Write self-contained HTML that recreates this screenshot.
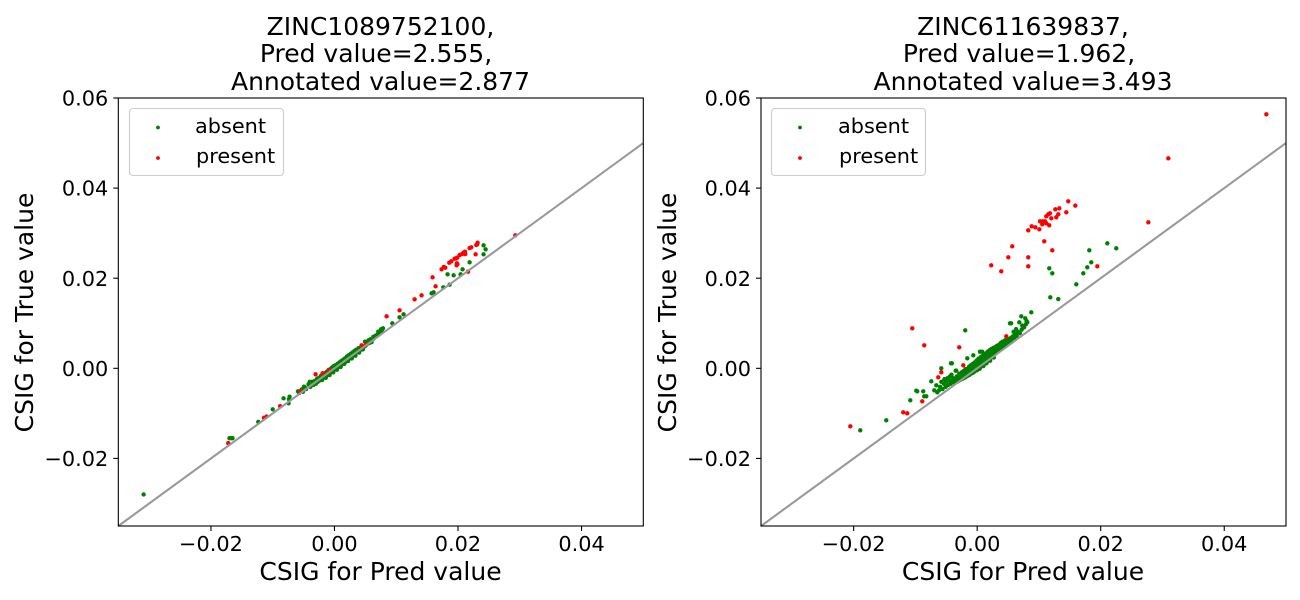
<!DOCTYPE html>
<html lang="en">
<head>
<meta charset="utf-8">
<title>CSIG scatter comparison</title>
<style>
html,body{margin:0;padding:0;background:#fff;width:1300px;height:600px;overflow:hidden}
svg{display:block}
text{font-family:"DejaVu Sans","Liberation Sans",sans-serif;fill:#000}
.title,.axis{font-size:25px}
.tick,.leg{font-size:20.83px}
</style>
</head>
<body>
<svg id="figure" xmlns="http://www.w3.org/2000/svg" width="1300" height="600" viewBox="0 0 1300 600">
  <g id="panel-left">
    <g>
      <text class="title" x="380.5" y="35" text-anchor="middle">ZINC1089752100,</text>
      <text class="title" x="376" y="62" text-anchor="middle">Pred value=2.555,</text>
      <text class="title" x="380.5" y="90" text-anchor="middle">Annotated value=2.877</text>
    </g>
    <text class="axis" x="380.5" y="580" text-anchor="middle">CSIG for Pred value</text>
    <text class="axis" transform="translate(33,312.5) rotate(-90)" text-anchor="middle">CSIG for True value</text>
  </g>
  <g id="panel-right">
    <g>
      <text class="title" x="1023" y="35" text-anchor="middle">ZINC611639837,</text>
      <text class="title" x="1019" y="62" text-anchor="middle">Pred value=1.962,</text>
      <text class="title" x="1023" y="90" text-anchor="middle">Annotated value=3.493</text>
    </g>
    <text class="axis" x="1023" y="580" text-anchor="middle">CSIG for Pred value</text>
    <text class="axis" transform="translate(676,312.5) rotate(-90)" text-anchor="middle">CSIG for True value</text>
  </g>
</svg>
<script>
const xTickValues = [-0.02, 0, 0.02, 0.04];
const yTickValues = [-0.02, 0, 0.02, 0.04, 0.06];
const xTickLabels = ['\u22120.02', '0.00', '0.02', '0.04'];
const yTickLabels = ['\u22120.02', '0.00', '0.02', '0.04', '0.06'];
const xLimits = [-0.035, 0.05];
const yLimits = [-0.035, 0.06];
const identityLine = [-0.035, 0.05];

const leftAbsent = [
[-0.0309,-0.028],[-0.017,-0.0155],[-0.0167,-0.0155],[-0.0165,-0.0155],[-0.01234,-0.0119],[-0.01,-0.0091],
[-0.00824,-0.00666],[-0.00727,-0.0063],[-0.00737,-0.00688],[-0.00743,-0.00777],[-0.00591,-0.0051],[-0.0057,-0.0055],
[-0.00494,-0.00408],[-0.0048,-0.00425],[-0.0051,-0.0052],[-0.0046,-0.0046],[-0.00419,-0.00349],[-0.0039,-0.0041],
[-0.0036,-0.0030],[-0.0034,-0.0037],[-0.0032,-0.0028],[-0.0030,-0.0034],[-0.0028,-0.0023],[-0.0027,-0.0030],
[-0.0025,-0.0021],[-0.0024,-0.0027],[-0.0022,-0.0017],[-0.0021,-0.0024],[-0.0019,-0.0014],[-0.0018,-0.0021],
[-0.0016,-0.0011],[-0.0015,-0.0018],[-0.0013,-0.0008],[-0.0012,-0.0015],[-0.0010,-0.0005],[-0.0009,-0.0012],
[-0.0007,-0.0002],[-0.0006,-0.0009],[-0.0004,0.0002],[-0.0003,-0.0006],[-0.0001,0.0005],[0.0000,-0.0003],
[0.0002,0.0007],[0.0003,-0.0000],[0.0005,0.0010],[0.0006,0.0003],[0.0008,0.0013],[0.0009,0.0006],
[0.0011,0.0016],[0.0012,0.0009],[0.0014,0.0019],[0.0015,0.0012],[0.0017,0.0022],[0.0018,0.0015],
[0.0020,0.0026],[0.0021,0.0018],[0.0023,0.0029],[0.0024,0.0022],[0.0026,0.0032],[0.0027,0.0025],
[0.0029,0.0035],[0.0030,0.0028],[0.0032,0.0038],[0.0033,0.0032],[0.0035,0.0041],[0.0037,0.0036],
[0.0039,0.0045],[0.0041,0.0040],[0.00439,0.0050],[0.00494,0.0059],[0.0047,0.0047],[0.0052,0.0053],
[0.0055,0.0062],[0.0058,0.00644],[0.0060,0.0058],[0.0063,0.0070],[0.0066,0.0072],[0.00709,0.00812],
[0.0069,0.0074],[0.00753,0.00866],[0.0073,0.0079],[0.00785,0.00888],[0.0077,0.0081],
[-0.0020,-0.0026],[-0.0014,-0.0021],[-0.0008,-0.0015],[-0.0002,-0.0009],[0.0004,-0.0003],[0.0010,0.0003],
[0.0016,0.0010],[0.0022,0.0016],[0.0028,0.0022],[0.0034,0.0028],[0.0040,0.0035],[0.0046,0.0042],
[-0.0042,-0.0036],[-0.0040,-0.0030],[-0.0053,-0.0047],[0.0050,0.0050],[0.0056,0.0056],[0.0062,0.0064],
[0.00936,0.00999],[0.01054,0.01132],[0.01119,0.01199],[0.01572,0.01665],[0.01605,0.01687],[0.01762,0.01798],
[0.01864,0.01856],[0.01831,0.02087],[0.01929,0.02064],[0.02042,0.02087],[0.02074,0.02197],[0.02188,0.02353],
[0.02414,0.0273],[0.02447,0.02641],[0.02414,0.0253]
];
const leftPresent = [
[-0.0172,-0.0166],[-0.01142,-0.011],[-0.0110,-0.0107],[-0.0088,-0.0084],[-0.00549,-0.00504],[-0.00306,-0.00133],
[-0.00193,-0.00111],[-0.00096,-0.00038],[0.00439,0.00511],[0.00515,0.00539],[0.00844,0.01154],[0.01054,0.01287],
[0.01297,0.01531],[0.0141,0.0162],[0.01588,0.0202],[0.01637,0.0182],[0.01734,0.02197],[0.01794,0.02233],
[0.0177,0.0225],[0.01859,0.02344],[0.01891,0.02375],[0.01945,0.02433],[0.01965,0.0244],[0.01988,0.02455],
[0.01983,0.02331],[0.01977,0.02286],[0.0199,0.0231],[0.02026,0.02515],[0.02064,0.02537],[0.02113,0.02588],
[0.02118,0.02537],[0.02085,0.0256],[0.02162,0.02144],[0.02188,0.0267],[0.02215,0.02686],[0.02285,0.0253],
[0.02296,0.02737],[0.02317,0.02788],[0.0231,0.0275],[0.02928,0.02952]
];
const rightAbsent = [
[-0.01893,-0.01376],[-0.01472,-0.01154],[-0.01083,-0.0071],[-0.00986,-0.00497],[-0.0097,-0.0051],[-0.00873,-0.00511],
[-0.00857,-0.00622],[-0.00824,-0.00622],[-0.00743,-0.00289],[-0.00695,-0.00488],[-0.00662,-0.00377],[-0.00646,-0.00533],
[-0.00581,0.0],[-0.0062,-0.0049],[-0.0060,-0.0041],[-0.0058,-0.0030],[-0.0056,-0.0046],[-0.0054,-0.0034],
[-0.0053,-0.0024],[-0.0051,-0.0041],[-0.0050,-0.0029],[-0.0048,-0.0022],[-0.0047,-0.0037],[-0.0045,-0.0027],
[-0.0044,-0.0018],[-0.0043,-0.0034],[-0.00424,0.00111],[-0.0041,0.00111],[-0.00416,-0.00142],[-0.0040,-0.0028],
[-0.0039,-0.0022],[-0.0037,-0.0032],[-0.00348,-0.00053],[-0.0034,-0.0005],[-0.0034,-0.0026],[-0.0033,-0.0018],
[-0.0031,-0.0029],[-0.0030,-0.0020],[-0.0029,-0.0012],[-0.0028,-0.0026],[-0.0026,-0.0016],[-0.0025,-0.0009],
[-0.0025,-0.0024],[-0.0023,-0.0014],[-0.0022,-0.0006],[-0.0022,-0.0022],[-0.00193,0.00843],[-0.0020,-0.0011],
[-0.0019,-0.0002],[-0.0019,-0.0020],[-0.0017,-0.0008],[-0.0016,0.00222],[-0.0016,-0.0001],[-0.0016,-0.0017],
[-0.0014,-0.0004],[-0.0013,0.0004],[-0.0013,-0.0015],[-0.0011,-0.0002],[-0.0010,0.0007],[-0.0010,-0.0012],
[-0.0008,0.0002],[-0.00063,0.00289],[-0.0007,0.0010],[-0.0007,-0.0010],[-0.0005,0.0005],[-0.0004,0.0013],
[-0.0004,-0.0007],[-0.0002,0.0008],[-0.0001,0.0017],[-0.0001,-0.0004],[0.0001,0.0011],[0.0002,0.0021],
[0.0002,-0.0001],[0.0004,0.0014],[0.00045,0.00369],[0.0005,0.0024],[0.0005,0.0002],[0.0008,0.00369],
[0.0007,0.0016],[0.0008,0.0027],[0.0008,0.0006],[0.0010,0.0019],[0.0011,0.0031],[0.0011,0.0009],
[0.0013,0.0023],[0.0014,0.0033],[0.0014,0.0013],[0.0016,0.0026],[0.0017,0.0037],[0.0017,0.0016],
[0.0019,0.0030],[0.0020,0.0040],[0.0020,0.0020],[0.0022,0.0033],[0.0023,0.0043],[0.0023,0.0024],
[0.0025,0.0036],[0.0026,0.0045],[0.0026,0.0028],[0.0028,0.0039],[0.0029,0.0047],[0.0029,0.0032],
[0.0031,0.0043],[0.0032,0.0050],[0.0032,0.0036],[0.0034,0.0046],[0.0035,0.0052],[0.0035,0.0040],
[0.0037,0.0049],[0.0038,0.0056],[0.0038,0.0044],[0.0040,0.0053],[0.0041,0.0059],[0.0042,0.0048],
[0.0044,0.0056],[0.0045,0.0062],[0.0046,0.0052],[0.0048,0.0060],[0.0050,0.0065],[0.0050,0.0057],
[0.0053,0.0064],[0.0055,0.0068],[0.0055,0.0061],[0.0058,0.0071],[0.0059,0.0081],[0.0060,0.0067],
[0.0062,0.0076],[0.0063,0.0087],[0.0064,0.0072],[0.0066,0.0081],[0.00531,0.00999],[0.0055,0.0100],
[0.00682,0.01021],[0.0069,0.0078],[0.0072,0.0086],[0.00714,0.01154],[0.0073,0.0095],[0.0076,0.0091],
[0.00779,0.0111],[0.0079,0.0098],[0.00811,0.01021],[0.0080,0.0105],[0.00876,0.01243],
[-0.0012,-0.0006],[-0.0006,-0.0002],[0.0000,0.0005],[0.0003,0.0004],[0.0006,0.0010],[0.0009,0.0013],
[0.0012,0.0017],[0.0015,0.0021],[0.0018,0.0024],[0.0021,0.0028],[0.0024,0.0031],[0.0027,0.0034],
[0.0030,0.0037],[0.0033,0.0041],[0.0036,0.0044],[0.0039,0.0047],[0.0043,0.0052],[0.0047,0.0056],
[0.0000,-0.0004],[0.0004,-0.0001],[0.0010,0.0005],[0.0015,0.0011],[0.0021,0.0017],[0.0027,0.0024],
[0.01167,0.0222],[0.01184,0.01576],[0.01216,0.02109],[0.01313,0.01538],[0.01605,0.01865],[0.01718,0.02109],
[0.01783,0.02242],[0.01815,0.02619],[0.01847,0.02353],[0.02107,0.02775],[0.02252,0.02664]
];
const rightPresent = [
[-0.02054,-0.01288],[-0.01197,-0.00977],[-0.01132,-0.00999],[-0.01051,0.00888],[-0.00889,-0.00733],[-0.00857,0.00511],
[-0.0063,-0.002],[-0.00581,-0.00089],[-0.0029,0.00466],[-0.00225,0.00067],[0.00471,0.0071],[0.00228,0.02286],
[0.0039,0.02153],[0.00504,0.02464],[0.00568,0.02708],[0.00827,0.02464],[0.00827,0.02264],[0.00827,0.03063],
[0.00882,0.03152],[0.00941,0.0313],[0.01006,0.03086],[0.01017,0.03263],[0.01054,0.03197],[0.0106,0.03263],
[0.01086,0.02819],[0.01098,0.03263],[0.01119,0.03374],[0.01119,0.03219],[0.01151,0.03418],[0.01167,0.03174],
[0.01179,0.0344],[0.012,0.0333],[0.01216,0.02619],[0.01265,0.03529],[0.01281,0.03352],[0.01313,0.03418],
[0.0133,0.03552],[0.01443,0.03463],[0.01475,0.03707],[0.01589,0.03611],[0.01945,0.02264],[0.02771,0.03241],
[0.03095,0.04661],[0.04682,0.05638]
];

const SVG_NS = 'http://www.w3.org/2000/svg';
const axesWidth = 525;
const axesHeight = 428;
const axesTop = 98;

function makeX(left) {
  return function (v) { return left + (v - xLimits[0]) / (xLimits[1] - xLimits[0]) * axesWidth; };
}
function yScale(v) {
  return axesTop + axesHeight - (v - yLimits[0]) / (yLimits[1] - yLimits[0]) * axesHeight;
}
function node(tag, attrs, parent) {
  const el = document.createElementNS(SVG_NS, tag);
  Object.keys(attrs).forEach(function (k) { el.setAttribute(k, attrs[k]); });
  parent.appendChild(el);
  return el;
}

function drawPanel(panelId, left, legendLeft, legendTextShift, absent, present) {
  const root = document.getElementById(panelId);
  const x = makeX(left);

  const marks = node('g', {}, root);
  
  

  absent.forEach(function (d) {
    const c = node('circle', { cx: x(d[0]), cy: yScale(d[1]), r: 2.2, fill: 'green' }, marks);
    
    
  });
  present.forEach(function (d) {
    const c = node('circle', { cx: x(d[0]), cy: yScale(d[1]), r: 2.2, fill: 'red' }, marks);
    
    
  });

  const line = node('line', {
    x1: x(identityLine[0]), y1: yScale(identityLine[0]),
    x2: x(identityLine[1]), y2: yScale(identityLine[1]),
    stroke: '#999', 'stroke-width': 2.1
  }, root);
  
  

  const frame = node('rect', {
    x: left, y: axesTop, width: axesWidth, height: axesHeight,
    fill: 'none', stroke: '#000', 'stroke-width': 1.1
  }, root);
  
  

  xTickValues.forEach(function (v, i) {
    const px = x(v);
    const t = node('line', { x1: px, x2: px, y1: axesTop + axesHeight, y2: axesTop + axesHeight + 5, stroke: '#000', 'stroke-width': 1.1 }, root);
    
    
    const lab = node('text', { x: px, y: 551, 'text-anchor': 'middle', class: 'tick' }, root);
    lab.textContent = xTickLabels[i];
    
    
  });
  yTickValues.forEach(function (v, i) {
    const py = yScale(v);
    const t = node('line', { x1: left - 5, x2: left, y1: py, y2: py, stroke: '#000', 'stroke-width': 1.1 }, root);
    
    
    const lab = node('text', { x: left - 10, y: py + 7.6, 'text-anchor': 'end', class: 'tick' }, root);
    lab.textContent = yTickLabels[i];
    
    
  });

  const legend = node('g', {}, root);
  
  
  const box = node('rect', { x: legendLeft + 0.5, y: 108.5, width: 154, height: 67, rx: 3.5, fill: '#fff', 'fill-opacity': 0.8, stroke: '#ccc', 'stroke-width': 1.1 }, legend);
  
  
  const d1 = node('circle', { cx: legendLeft + 29, cy: 127.5, r: 1.9, fill: 'green' }, legend);
  
  
  const t1 = node('text', { x: legendLeft + 66 + legendTextShift, y: 133, class: 'leg' }, legend);
  t1.textContent = 'absent';
  
  
  const d2 = node('circle', { cx: legendLeft + 29, cy: 158, r: 1.9, fill: 'red' }, legend);
  
  
  const t2 = node('text', { x: legendLeft + 67 + legendTextShift, y: 163, class: 'leg' }, legend);
  t2.textContent = 'present';
  
  
}

drawPanel('panel-left', 118.3, 129, 0, leftAbsent, leftPresent);
drawPanel('panel-right', 761, 771, 1, rightAbsent, rightPresent);
</script>
</body>
</html>
